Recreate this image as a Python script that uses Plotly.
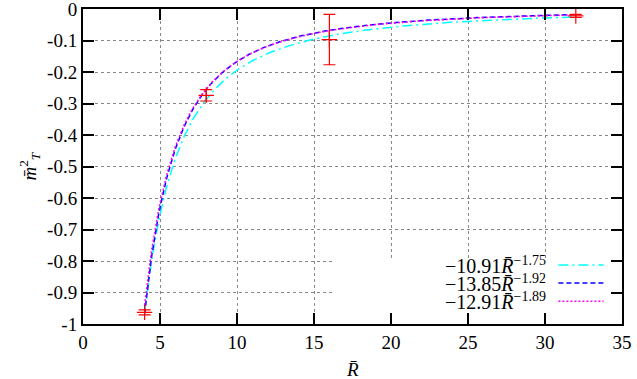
import numpy as np
import plotly.graph_objects as go

# lattice data (R-bar, m-bar^2_T, error)
r_vals = [4, 8, 16, 32]
m2_vals = [-0.963, -0.274, -0.097, -0.022]
m2_err = [0.008, 0.018, 0.080, 0.005]

# power-law fits a * R^b, as given in the key
fit_a = [-10.91, -13.85, -12.91]
fit_b = [-1.75, -1.92, -1.89]
fit_names = ["\u221210.91<i>R\u0304</i><sup>\u22121.75</sup>",
             "\u221213.85<i>R\u0304</i><sup>\u22121.92</sup>",
             "\u221212.91<i>R\u0304</i><sup>\u22121.89</sup>"]
fit_colors = ["#00ffff", "#0000ff", "#ff00ff"]
fit_dash = ["10px,4px,2px,4px", "5px,3px", "2px,2px"]

x_ticks = [0, 5, 10, 15, 20, 25, 30, 35]
y_ticks = [0, -0.1, -0.2, -0.3, -0.4, -0.5, -0.6, -0.7, -0.8, -0.9, -1]
y_labels = ["0", "-0.1", "-0.2", "-0.3", "-0.4", "-0.5", "-0.6", "-0.7", "-0.8", "-0.9", "-1"]

font = "Liberation Serif"
fig = go.Figure()

xs = np.linspace(r_vals[0], r_vals[-1], 400)
for a, b, c, d in zip(fit_a, fit_b, fit_colors, fit_dash):
    fig.add_trace(go.Scatter(x=xs, y=a * xs ** b, mode="lines",
                             line=dict(color=c, dash=d, width=1.5),
                             showlegend=False, hoverinfo="skip"))

fig.add_trace(go.Scatter(
    x=r_vals, y=m2_vals, mode="markers",
    marker=dict(symbol="cross-thin", size=11, line=dict(color="#ff0000", width=1.2)),
    error_y=dict(type="data", array=m2_err, color="#ff0000", thickness=1.2, width=6),
    showlegend=False))

# white key box, drawn over the grid
fig.add_shape(type="rect", xref="x", yref="y", x0=16.2, x1=34.9, y0=-0.999, y1=-0.793,
              fillcolor="white", line=dict(width=0), layer="between")

# key: text right-aligned, sample line on the right
row_y = [0.187, 0.130, 0.072]
for name, c, d, yy in zip(fit_names, fit_colors, fit_dash, row_y):
    fig.add_annotation(xref="paper", yref="paper", x=0.862, y=yy, text=name,
                       showarrow=False, xanchor="right", yanchor="middle",
                       font=dict(family=font, size=20, color="black"))
    fig.add_shape(type="line", xref="paper", yref="paper", x0=0.882, x1=0.966, y0=yy, y1=yy,
                  line=dict(color=c, dash=d, width=1.5))

# axis titles
fig.add_annotation(xref="paper", yref="paper", x=0.5, y=-0.105, text="<i>R\u0304</i>",
                   showarrow=False, xanchor="center", yanchor="top",
                   font=dict(family=font, size=19, color="black"))
fig.add_annotation(xref="paper", yref="paper", x=-0.1, y=0.5,
                   text="<i>m\u0304</i><sup>2</sup><sub><i>T</i></sub>", textangle=-90,
                   showarrow=False, xanchor="center", yanchor="middle",
                   font=dict(family=font, size=19, color="black"))

axis_common = dict(showline=True, linecolor="black", linewidth=2, mirror="allticks",
                   ticks="inside", ticklen=11, tickwidth=2, tickcolor="black",
                   showgrid=True, gridcolor="#888888", griddash="dot", gridwidth=1,
                   zeroline=False, automargin=False, ticklabeloverflow="allow",
                   tickfont=dict(family=font, size=19, color="black"))

fig.update_xaxes(range=[0, 35], tickvals=x_ticks, ticktext=[str(t) for t in x_ticks],
                 **axis_common)
fig.update_yaxes(range=[-1, 0], tickvals=y_ticks, ticktext=y_labels, **axis_common)

fig.update_layout(width=637, height=379, plot_bgcolor="white", paper_bgcolor="white",
                  margin=dict(l=83, r=15, t=9, b=55), font=dict(family=font, color="black"))

# drop the browser's default page margin so the figure sits at 0,0
fig.write_html("out.html", config={"displayModeBar": False},
               post_script="document.body.style.margin='0';")
